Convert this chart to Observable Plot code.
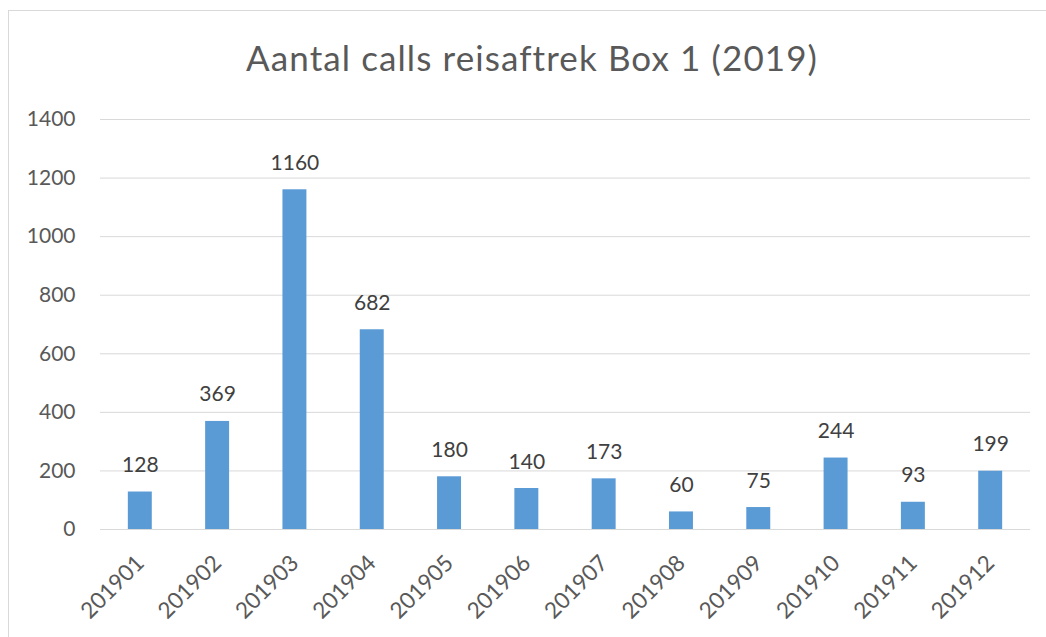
<!DOCTYPE html>
<html><head><meta charset="utf-8">
<script src="https://cdn.jsdelivr.net/npm/d3@7"></script>
<script src="https://cdn.jsdelivr.net/npm/@observablehq/plot@0.6"></script>
<style>
body{margin:0;background:#fff;font-family:Lato,sans-serif;}
#frame{position:absolute;left:8px;top:10px;width:1100px;height:700px;border-left:1px solid #d9d9d9;border-top:1px solid #d9d9d9;}
#title{position:absolute;left:0;top:36px;width:1064px;text-align:center;font-size:35px;color:#595959;font-family:Lato,sans-serif;letter-spacing:1.1px;}
#chart{position:absolute;left:0;top:100px;}
</style></head>
<body>
<div id="frame"></div>
<div id="title">Aantal calls reisaftrek Box 1 (2019)</div>
<div id="chart"></div>
<script>
const months = ["201901","201902","201903","201904","201905","201906","201907","201908","201909","201910","201911","201912"];
const calls = [128,369,1160,682,180,140,173,60,75,244,93,199];
const yTicks = [0,200,400,600,800,1000,1200,1400];
const data = months.map((m,i)=>({month:m, calls:calls[i]}));
const plot = Plot.plot({
  width:1046, height:537,
  marginLeft:100, marginRight:16, marginTop:19, marginBottom:108,
  style:{fontFamily:"Lato, sans-serif", fontSize:"21px", color:"#595959", background:"transparent"},
  x:{domain:months, paddingInner:0.69, paddingOuter:0.36, round:false, label:null},
  y:{domain:[0,1400], label:null},
  marks:[
    Plot.gridY(yTicks, {stroke:"#d9d9d9", strokeOpacity:1}),
    Plot.barY(data, {x:"month", y:"calls", fill:"#5b9bd5"}),
    Plot.text(data, {x:"month", y:"calls", text:d=>String(d.calls), lineAnchor:"bottom", dy:-20, fill:"#404040", fontSize:21}),
    Plot.axisY({ticks:yTicks, tickFormat:d=>String(d), tickSize:0, tickPadding:25, fill:"#595959", fontSize:21}),
    Plot.axisX({tickSize:0, tickPadding:30, tickRotate:-45, fill:"#595959", fontSize:22.5})
  ]
});
document.getElementById("chart").appendChild(plot);
</script>
</body></html>
